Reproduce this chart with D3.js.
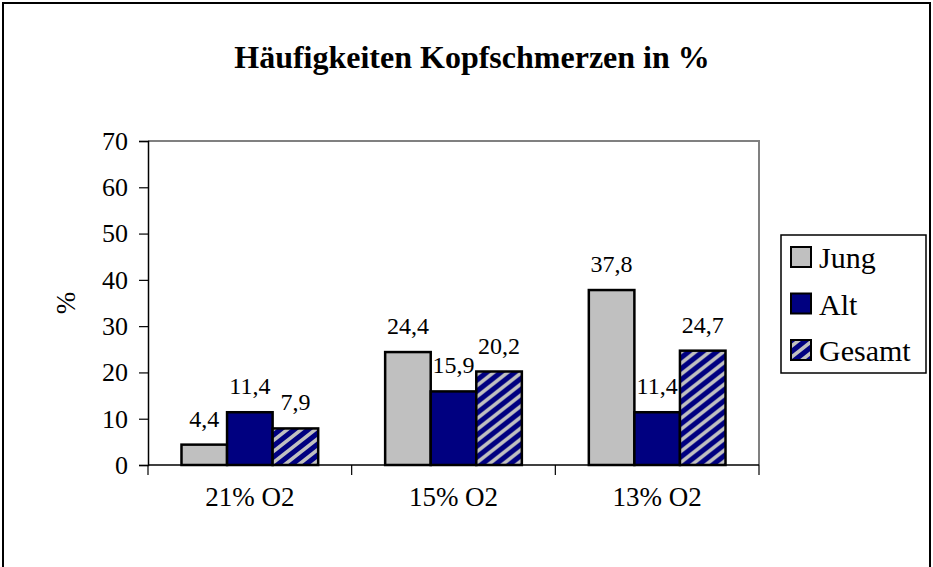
<!DOCTYPE html>
<html><head><meta charset="utf-8">
<script src="https://cdn.jsdelivr.net/npm/d3@7"></script>
<style>html,body{margin:0;padding:0;background:#fff}svg{display:block}</style>
</head><body>
<script>
const categories = ["21% O2", "15% O2", "13% O2"];
const seriesNames = ["Jung", "Alt", "Gesamt"];
const jung = [4.4, 24.4, 37.8];
const alt = [11.4, 15.9, 11.4];
const gesamt = [7.9, 20.2, 24.7];
const yTicks = [0, 10, 20, 30, 40, 50, 60, 70];
const title = "Häufigkeiten Kopfschmerzen in %";
const yLabel = "%";

const seriesValues = [jung, alt, gesamt];
const W = 933, H = 567;
const font = "Liberation Serif, Times New Roman, serif";
const svg = d3.select("body").append("svg").attr("width", W).attr("height", H);

const defs = svg.append("defs");
const pw = 14, ph = 11;
const pat = defs.append("pattern").attr("id", "hatch").attr("patternUnits", "userSpaceOnUse")
  .attr("width", pw).attr("height", ph);
pat.append("rect").attr("width", pw).attr("height", ph).attr("fill", "#000080");
pat.append("path")
  .attr("d", `M${-pw/2},${ph/2}L${pw/2},${-ph/2}M0,${ph}L${pw},0M${pw/2},${ph*1.5}L${pw*1.5},${ph/2}`)
  .attr("stroke", "#C0C0C0").attr("stroke-width", 3.6);
const fills = ["#C0C0C0", "#000080", "url(#hatch)"];

// outer border (bottom edge falls outside the picture)
svg.append("path").attr("d", "M3,567V3H930V567")
  .attr("fill", "none").attr("stroke", "#000").attr("stroke-width", 2);

svg.append("text").attr("x", 472).attr("y", 68).attr("text-anchor", "middle")
  .attr("font-family", font).attr("font-weight", "bold").attr("font-size", 32).text(title);

const x0 = d3.scaleBand().domain(categories).range([148, 759]).padding(0);
const x1 = d3.scaleBand().domain(seriesNames).range([0, x0.bandwidth()]).paddingInner(0).paddingOuter(0.735);
const y = d3.scaleLinear().domain([0, 70]).range([465, 141]);

// plot border (gray)
svg.append("path").attr("d", `M148,141H759V465`).attr("fill", "none")
  .attr("stroke", "#808080").attr("stroke-width", 2);

const groups = svg.append("g").selectAll("g").data(categories).join("g")
  .attr("transform", d => `translate(${x0(d)},0)`);
groups.each(function(c, ci) {
  const g = d3.select(this);
  seriesNames.forEach((s, si) => {
    const v = seriesValues[si][ci];
    g.append("rect").attr("x", x1(s)).attr("y", y(v)).attr("width", x1.bandwidth())
      .attr("height", y(0) - y(v)).attr("fill", fills[si]).attr("stroke", "#000").attr("stroke-width", 2.5);
    g.append("text").attr("x", x1(s) + x1.bandwidth() / 2).attr("y", y(v) - 18)
      .attr("text-anchor", "middle").attr("font-family", font).attr("font-size", 24)
      .text(String(v).replace(".", ","));
  });
});

// y axis
const yAxis = svg.append("g").attr("transform", "translate(148,0)")
  .call(d3.axisLeft(y).tickValues(yTicks).tickSize(9).tickPadding(11).tickFormat(d => d));
yAxis.select(".domain").attr("stroke", "#000").attr("stroke-width", 1.5);
yAxis.selectAll(".tick line").attr("stroke", "#000").attr("stroke-width", 1.2);
yAxis.selectAll("text").attr("font-family", font).attr("font-size", 26).attr("fill", "#000");

// x axis
const xAxisScale = d3.scalePoint().domain(d3.range(categories.length + 1)).range([148, 759]);
const xAxis = svg.append("g").attr("transform", "translate(0,465)");
xAxis.append("line").attr("x1", 148).attr("x2", 759).attr("stroke", "#000").attr("stroke-width", 1.5);
xAxis.selectAll("line.t").data(xAxisScale.domain()).join("line").attr("class", "t")
  .attr("x1", d => xAxisScale(d)).attr("x2", d => xAxisScale(d)).attr("y1", 0).attr("y2", 10)
  .attr("stroke", "#000").attr("stroke-width", 1.2);
xAxis.selectAll("text").data(categories).join("text")
  .attr("x", d => x0(d) + x0.bandwidth() / 2).attr("y", 41).attr("text-anchor", "middle")
  .attr("font-family", font).attr("font-size", 27).text(d => d);

svg.append("text").attr("transform", "translate(75,303) rotate(-90)").attr("text-anchor", "middle")
  .attr("font-family", font).attr("font-size", 27).text(yLabel);

// legend
const lg = svg.append("g");
lg.append("rect").attr("x", 781).attr("y", 235).attr("width", 145).attr("height", 138)
  .attr("fill", "#fff").attr("stroke", "#000").attr("stroke-width", 1.5);
seriesNames.forEach((s, i) => {
  const yy = 247 + i * 46.5;
  lg.append("rect").attr("x", 791).attr("y", yy).attr("width", 20).attr("height", 20)
    .attr("fill", fills[i]).attr("stroke", "#000").attr("stroke-width", 2);
  lg.append("text").attr("x", 819).attr("y", yy + 21).attr("font-family", font)
    .attr("font-size", 30).text(s);
});
</script>
</body></html>
